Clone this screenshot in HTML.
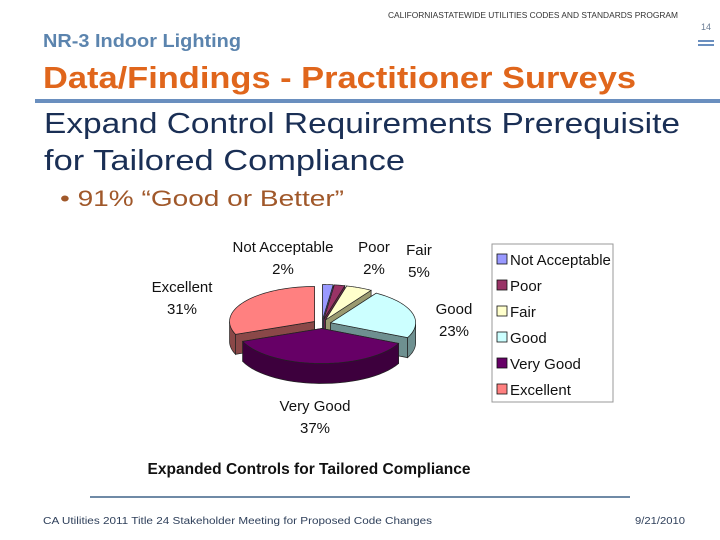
<!DOCTYPE html>
<html><head><meta charset="utf-8"><style>
html,body{margin:0;padding:0;background:#fff;}
svg{display:block;font-family:"Liberation Sans",sans-serif;}
</style></head><body>
<svg id="s" width="720" height="540" viewBox="0 0 720 540">
<rect width="720" height="540" fill="#fff"/>
<text x="706" y="30" text-anchor="middle" font-size="9" fill="#6b7d95">14</text>
<rect x="698" y="40" width="16" height="2" fill="#6a8fbf"/>
<rect x="698" y="44" width="16" height="2" fill="#6a8fbf"/>
<text x="678" y="18" text-anchor="end" font-size="8" fill="#333" textLength="290" lengthAdjust="spacingAndGlyphs">CALIFORNIASTATEWIDE UTILITIES CODES AND STANDARDS PROGRAM</text>
<text x="43" y="47" font-size="18" font-weight="bold" fill="#5b84ae" textLength="198" lengthAdjust="spacingAndGlyphs">NR-3 Indoor Lighting</text>
<text x="43" y="88" font-size="31" font-weight="bold" fill="#e0661c" textLength="593" lengthAdjust="spacingAndGlyphs">Data/Findings - Practitioner Surveys</text>
<rect x="35" y="99" width="685" height="4" fill="#6a8fbf"/>
<text x="44" y="133" font-size="29" fill="#1a2f55" textLength="636" lengthAdjust="spacingAndGlyphs">Expand Control Requirements Prerequisite</text>
<text x="44" y="170" font-size="29" fill="#1a2f55" textLength="361" lengthAdjust="spacingAndGlyphs">for Tailored Compliance</text>
<text x="60" y="206" font-size="22" fill="#a0582a" textLength="284" lengthAdjust="spacingAndGlyphs">• 91% “Good or Better”</text>
<g id="pie"></g>
<g id="labels"></g>
<rect x="492" y="244" width="121" height="158" fill="#fff" stroke="#999" stroke-width="1"/>
<g id="legend"></g>
<text x="309" y="474" text-anchor="middle" font-size="16" font-weight="bold" fill="#111" textLength="323" lengthAdjust="spacingAndGlyphs">Expanded Controls for Tailored Compliance</text>
<rect x="90" y="496" width="540" height="2" fill="#6f8aa6"/>
<text x="43" y="524" font-size="10" fill="#2e3f5a" textLength="389" lengthAdjust="spacingAndGlyphs">CA Utilities 2011 Title 24 Stakeholder Meeting for Proposed Code Changes</text>
<text x="685" y="524" text-anchor="end" font-size="10" fill="#2e3f5a" textLength="50" lengthAdjust="spacingAndGlyphs">9/21/2010</text>
</svg>
<script>
const categories=["Not Acceptable","Poor","Fair","Good","Very Good","Excellent"];
const values=[2,2,5,23,37,31];
const topColors=["#9999ff","#993366","#ffffcc","#ccffff","#660066","#ff8080"];
const sideColors=["#6666b0","#6b2447","#9a9a70","#6e9090","#3d003d","#8a4848"];
const labelPos=[[283,252],[374,252],[419,255],[454,314],[315,411],[182,292]];
const NS="http://www.w3.org/2000/svg";
const cx=322,cy=324,rx=85,ry=35,depth=20,ex=9;
const pie=document.getElementById('pie');
const total=values.reduce((a,b)=>a+b,0);
function pt(a,ox,oy,dy){return [ox+rx*Math.sin(a),oy-ry*Math.cos(a)+(dy||0)];}
function mk(tag,attrs){const e=document.createElementNS(NS,tag);for(const k in attrs)e.setAttribute(k,attrs[k]);return e;}
let acc=0;const slices=[];
values.forEach((v,i)=>{const a0=acc/total*2*Math.PI;acc+=v;const a1=acc/total*2*Math.PI;const m=(a0+a1)/2;
 slices.push({i,a0,a1,m,ox:cx+ex*Math.sin(m),oy:cy-ex*0.5*Math.cos(m)});});
slices.slice().sort((a,b)=>(-Math.cos(a.m))-(-Math.cos(b.m))).forEach(s=>{
 const g=mk('g',{});
 
 
 const st={fill:sideColors[s.i],stroke:'#222','stroke-width':0.7};
 [s.a0,s.a1].forEach(a=>{const p=pt(a,s.ox,s.oy);
  g.appendChild(mk('path',Object.assign({d:`M${s.ox},${s.oy}L${p[0]},${p[1]}L${p[0]},${p[1]+depth}L${s.ox},${s.oy+depth}Z`},st)));});
 const lo=Math.max(s.a0,Math.PI/2),hi=Math.min(s.a1,1.5*Math.PI);
 if(hi>lo){const N=30;const top=[],bot=[];
  for(let k=0;k<=N;k++){const a=lo+(hi-lo)*k/N;top.push(pt(a,s.ox,s.oy));bot.push(pt(a,s.ox,s.oy,depth));}
  const d='M'+top.map(p=>p.join(',')).join('L')+'L'+bot.reverse().map(p=>p.join(',')).join('L')+'Z';
  g.appendChild(mk('path',Object.assign({d},st)));}
 const N=40;let d=`M${s.ox},${s.oy}`;
 for(let k=0;k<=N;k++){const p=pt(s.a0+(s.a1-s.a0)*k/N,s.ox,s.oy);d+=`L${p[0]},${p[1]}`;}
 g.appendChild(mk('path',{d:d+'Z',fill:topColors[s.i],stroke:'#222','stroke-width':0.7}));
 pie.appendChild(g);
});
const lab=document.getElementById('labels');
categories.forEach((c,i)=>{
 const t=mk('text',{x:labelPos[i][0],y:labelPos[i][1],'text-anchor':'middle','font-size':15,fill:'#111'});
 
 
 const a=mk('tspan',{x:labelPos[i][0]});a.textContent=c;
 const b=mk('tspan',{x:labelPos[i][0],dy:22});b.textContent=values[i]+'%';
 t.appendChild(a);t.appendChild(b);lab.appendChild(t);
});
const leg=document.getElementById('legend');
categories.forEach((c,i)=>{const y=260+i*26;
 const g=mk('g',{});
 
 
 g.appendChild(mk('rect',{x:497,y:y-6,width:10,height:10,fill:topColors[i],stroke:'#111','stroke-width':0.8}));
 const t=mk('text',{x:510,y:y+5,'font-size':15,fill:'#111'});t.textContent=c;g.appendChild(t);
 leg.appendChild(g);});
</script>
</body></html>
